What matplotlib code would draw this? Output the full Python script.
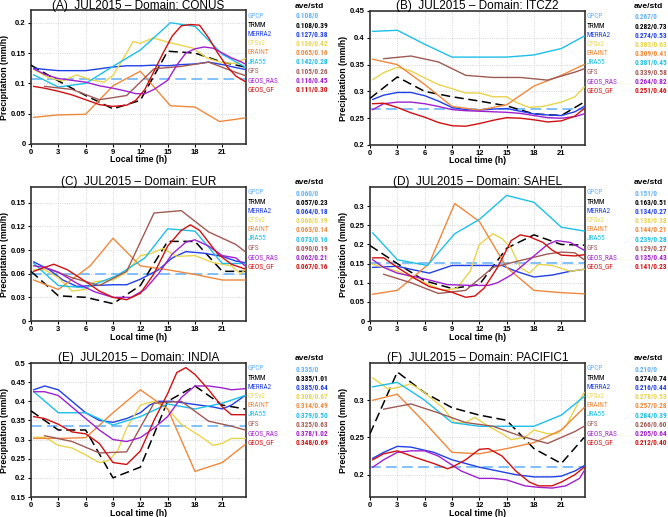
import matplotlib
matplotlib.use('Agg')
import matplotlib.pyplot as plt
from matplotlib import font_manager

plt.rcParams['font.family'] = ['Liberation Sans', 'DejaVu Sans']

# Model names and colours
models = ['GPCP', 'TRMM', 'MERRA2', 'CFSv2', 'ERAINT', 'JRA55', 'GFS', 'GEOS_RAS', 'GEOS_GF']
colors = ['#5fb0ff', '#000000', '#2040e8', '#e8d44c', '#f0883c',
          '#1cbfe8', '#a05a55', '#a020d0', '#d01010']

titles = ['(A)  JUL2015 \u2013 Domain: CONUS', '(B)  JUL2015 \u2013 Domain: ITCZ2',
          '(C)  JUL2015 \u2013 Domain: EUR', '(D)  JUL2015 \u2013 Domain: SAHEL',
          '(E)  JUL2015 \u2013 Domain: INDIA', '(F)  JUL2015 \u2013 Domain: PACIFIC1']

# ave/std per panel (legend column)
conus_stats = ['0.108/0', '0.108/0.39', '0.127/0.38', '0.136/0.42', '0.065/0.16',
               '0.142/0.28', '0.105/0.26', '0.116/0.45', '0.111/0.30']
itcz_stats = ['0.267/0', '0.282/0.73', '0.274/0.53', '0.303/0.63', '0.309/0.41',
              '0.381/0.45', '0.339/0.58', '0.264/0.82', '0.251/0.46']
eur_stats = ['0.060/0', '0.057/0.23', '0.064/0.18', '0.066/0.19', '0.063/0.14',
             '0.073/0.16', '0.090/0.19', '0.062/0.21', '0.067/0.16']
sahel_stats = ['0.151/0', '0.163/0.51', '0.134/0.27', '0.136/0.38', '0.144/0.21',
               '0.239/0.28', '0.129/0.27', '0.135/0.43', '0.141/0.23']
india_stats = ['0.335/0', '0.335/1.01', '0.385/0.64', '0.308/0.67', '0.314/0.49',
               '0.379/0.50', '0.325/0.63', '0.378/1.02', '0.348/0.69']
pacific_stats = ['0.210/0', '0.274/0.74', '0.216/0.44', '0.278/0.53', '0.257/0.28',
                 '0.284/0.39', '0.266/0.60', '0.205/0.64', '0.212/0.40']

# GPCP daily mean (flat dashed line)
gpcp_mean = [0.108, 0.267, 0.060, 0.151, 0.335, 0.210]

# ---- (A) CONUS: (hours, values) per model, TRMM..GEOS_GF
conus_trmm = ([0, 3, 6, 9, 12, 15, 18, 21, 23.5],
              [0.130, 0.104, 0.080, 0.058, 0.072, 0.153, 0.150, 0.135, 0.127])
conus_merra2 = ([0.3, 1.5, 3, 4.5, 6, 7.5, 9, 10.5, 12, 13.5, 15, 16.5, 18, 19.5, 21, 22.5, 23.5],
                [0.125, 0.123, 0.121, 0.121, 0.121, 0.124, 0.127, 0.129, 0.129, 0.130, 0.129,
                 0.131, 0.132, 0.135, 0.131, 0.126, 0.123])
conus_cfsv2 = ([0.3, 2, 3.5, 5, 6.5, 8, 9, 10.5, 11.2, 12, 13.4, 15, 17.8, 19.3, 21, 22.5, 23.5],
               [0.123, 0.109, 0.104, 0.114, 0.106, 0.102, 0.113, 0.150, 0.169, 0.166, 0.175,
                0.168, 0.158, 0.142, 0.134, 0.133, 0.141])
conus_eraint = ([0.3, 3, 6, 9, 12, 15.3, 18, 20.7, 23.5],
                [0.044, 0.048, 0.049, 0.096, 0.120, 0.063, 0.061, 0.037, 0.043])
conus_jra55 = ([0.3, 3, 6, 9, 12, 15.3, 18, 21, 23.5],
               [0.114, 0.094, 0.100, 0.128, 0.155, 0.200, 0.194, 0.148, 0.127])
conus_gfs = ([1.5, 4.5, 7.5, 10.5, 13.5, 16.5, 19.5, 22.5, 23.5],
             [0.095, 0.090, 0.073, 0.080, 0.124, 0.128, 0.135, 0.118, 0.113])
conus_geos_ras = ([0.3, 1.5, 3, 4.5, 6, 7.5, 9, 10.5, 11.5, 12.5, 13.5, 15, 16, 17, 18, 19,
                   20, 21, 22, 23, 23.5],
                  [0.124, 0.115, 0.108, 0.105, 0.102, 0.096, 0.092, 0.087, 0.083, 0.083, 0.090,
                   0.105, 0.130, 0.150, 0.157, 0.160, 0.158, 0.150, 0.142, 0.136, 0.132])
conus_geos_gf = ([0.3, 1.5, 3, 4.5, 6, 7.5, 9, 10.5, 11.5, 12.5, 13.5, 14.5, 15.5, 16.5, 17.5,
                  18.5, 19.5, 20.5, 21.5, 22.5, 23.5],
                 [0.095, 0.092, 0.087, 0.081, 0.073, 0.065, 0.062, 0.064, 0.072, 0.090, 0.120,
                  0.150, 0.178, 0.195, 0.197, 0.196, 0.175, 0.150, 0.128, 0.112, 0.103])

# ---- (B) ITCZ2
itcz_trmm = ([0, 3, 6, 9, 12, 15, 18, 21, 23.5],
             [0.287, 0.327, 0.300, 0.290, 0.282, 0.273, 0.258, 0.255, 0.280])
itcz_merra2 = ([0.3, 1.5, 3, 4.5, 6, 7.5, 9, 10.5, 12, 13.5, 15, 16.5, 18, 19.5, 21, 22.5, 23.5],
               [0.285, 0.293, 0.298, 0.298, 0.292, 0.282, 0.270, 0.266, 0.265, 0.267, 0.268,
                0.263, 0.258, 0.256, 0.255, 0.262, 0.272])
itcz_cfsv2 = ([0.3, 1.5, 3, 4.5, 6, 7.5, 9, 10.5, 12, 13.5, 15, 16, 17.5, 19, 21, 22.5, 23.5],
              [0.322, 0.335, 0.345, 0.338, 0.325, 0.313, 0.305, 0.297, 0.297, 0.290, 0.290,
               0.280, 0.270, 0.272, 0.280, 0.290, 0.308])
itcz_eraint = ([0.3, 3, 6, 9, 12, 15, 18, 21, 23.5],
               [0.360, 0.350, 0.313, 0.272, 0.265, 0.275, 0.310, 0.330, 0.350])
itcz_jra55 = ([0.3, 3, 6, 9, 12, 15, 18, 21, 23.5],
              [0.412, 0.414, 0.388, 0.364, 0.364, 0.364, 0.368, 0.380, 0.403])
itcz_gfs = ([1.5, 4.5, 7.5, 10.5, 13.5, 16.5, 19.5, 22.5, 23.5],
            [0.361, 0.366, 0.355, 0.330, 0.326, 0.326, 0.321, 0.336, 0.342])
itcz_geos_ras = ([0.3, 1.5, 3, 4.5, 6, 7.5, 9, 10.5, 12, 13.5, 15, 16.5, 18, 19.5, 21, 22.5, 23.5],
                 [0.266, 0.277, 0.280, 0.280, 0.277, 0.272, 0.266, 0.264, 0.263, 0.262, 0.261,
                  0.259, 0.255, 0.251, 0.250, 0.253, 0.258])
itcz_geos_gf = ([0.3, 1.5, 3, 4.5, 6, 7.5, 9, 10.5, 12, 13.5, 15, 16.5, 18, 19.5, 21, 22.5, 23.5],
                [0.277, 0.278, 0.270, 0.260, 0.252, 0.242, 0.236, 0.235, 0.240, 0.246, 0.251,
                 0.250, 0.247, 0.243, 0.245, 0.254, 0.268])

# ---- (C) EUR
eur_trmm = ([0, 3, 6, 9, 12, 15, 18, 21, 23.5],
            [0.063, 0.032, 0.030, 0.022, 0.045, 0.101, 0.101, 0.063, 0.063])
eur_merra2 = ([0.3, 2, 3.5, 5, 7, 9, 10.5, 12, 14, 15.5, 17, 19, 21, 22.5, 23.5],
              [0.075, 0.065, 0.052, 0.044, 0.045, 0.046, 0.046, 0.053, 0.065, 0.080, 0.088,
               0.086, 0.082, 0.076, 0.074])
eur_cfsv2 = ([0.3, 1.5, 3, 4.5, 6, 7, 9, 10.5, 12, 13, 14.5, 16, 18, 20, 22, 23, 23.5],
             [0.065, 0.065, 0.055, 0.038, 0.040, 0.050, 0.052, 0.062, 0.083, 0.085, 0.092,
              0.082, 0.083, 0.074, 0.070, 0.060, 0.065])
eur_eraint = ([0.3, 3, 6.5, 9, 12, 15, 18, 21, 23.5],
              [0.052, 0.040, 0.070, 0.105, 0.070, 0.065, 0.059, 0.052, 0.052])
eur_jra55 = ([0.3, 3, 6, 9.5, 12.5, 15, 18, 21, 23.5],
             [0.073, 0.045, 0.042, 0.058, 0.080, 0.117, 0.114, 0.073, 0.073])
eur_gfs = ([1.5, 4.5, 7.5, 10.5, 13.5, 16.5, 19.5, 22.5, 23.5],
           [0.068, 0.055, 0.045, 0.063, 0.137, 0.140, 0.113, 0.097, 0.088])
eur_geos_ras = ([0.3, 1.5, 3, 5, 7, 9, 11, 12.5, 14, 15.5, 17, 18, 19.5, 21, 22.5, 23.5],
                [0.070, 0.068, 0.062, 0.048, 0.037, 0.030, 0.030, 0.040, 0.060, 0.085, 0.100,
                 0.103, 0.095, 0.083, 0.080, 0.070])
eur_geos_gf = ([0.3, 1.5, 2.5, 4, 6, 7.5, 9, 10.5, 12, 13.5, 15, 16.5, 17.5, 18.5, 20.5, 22, 23.5],
               [0.063, 0.068, 0.072, 0.065, 0.050, 0.038, 0.030, 0.027, 0.035, 0.060, 0.095,
                0.115, 0.122, 0.115, 0.085, 0.072, 0.066])

# ---- (D) SAHEL
sahel_trmm = ([0, 3, 6, 9, 12, 15, 18, 21, 23.5],
              [0.197, 0.150, 0.105, 0.085, 0.095, 0.190, 0.225, 0.200, 0.198])
sahel_merra2 = ([0.3, 3, 4.5, 6.5, 9, 12, 14.5, 16, 18, 20, 22, 23.5],
                [0.140, 0.143, 0.135, 0.125, 0.145, 0.145, 0.145, 0.130, 0.115, 0.120, 0.130, 0.135])
sahel_cfsv2 = ([0.3, 3, 6, 8, 9.5, 11, 12, 13.5, 14.5, 15.5, 16.5, 17.5, 18.5, 20, 22, 23.5],
               [0.148, 0.130, 0.100, 0.080, 0.085, 0.130, 0.200, 0.228, 0.215, 0.190, 0.140,
                0.125, 0.148, 0.145, 0.130, 0.135])
sahel_eraint = ([0.3, 3, 6.5, 9.3, 12, 15, 18, 21, 23.5],
                [0.070, 0.080, 0.150, 0.307, 0.260, 0.140, 0.080, 0.074, 0.071])
sahel_jra55 = ([0.3, 3, 6.3, 9.3, 12, 15, 18, 21, 23.5],
               [0.230, 0.160, 0.145, 0.228, 0.265, 0.328, 0.310, 0.245, 0.235])
sahel_gfs = ([1.5, 4.5, 7.5, 10.5, 13.5, 16.5, 19.5, 21, 22.5, 23.5],
             [0.122, 0.100, 0.072, 0.080, 0.140, 0.158, 0.175, 0.180, 0.178, 0.160])
sahel_geos_ras = ([0.3, 1.5, 3, 6, 8.5, 11, 13, 14, 15.5, 17, 18, 19.5, 20.5, 22, 23.5],
                  [0.160, 0.140, 0.125, 0.110, 0.095, 0.093, 0.093, 0.100, 0.120, 0.150, 0.170,
                   0.200, 0.210, 0.205, 0.185])
sahel_geos_gf = ([0.3, 1.5, 3, 5, 6.5, 9, 10.5, 11.5, 12.5, 14, 15.5, 16.5, 17.5, 19, 20, 21,
                  22.5, 23.5],
                 [0.165, 0.165, 0.140, 0.110, 0.090, 0.075, 0.062, 0.065, 0.085, 0.140, 0.210,
                  0.225, 0.220, 0.205, 0.185, 0.172, 0.170, 0.173])

# ---- (E) INDIA
india_trmm = ([0, 3, 6, 9, 12, 15, 18, 21, 23.5],
              [0.375, 0.325, 0.325, 0.200, 0.228, 0.400, 0.440, 0.390, 0.380])
india_merra2 = ([0.3, 1.5, 3, 4.5, 6, 7.5, 9, 10.5, 12, 13, 14, 15.5, 17, 18.5, 20, 21, 22,
                 23.5],
                [0.430, 0.440, 0.430, 0.400, 0.370, 0.350, 0.345, 0.355, 0.370, 0.390, 0.400,
                 0.400, 0.395, 0.390, 0.385, 0.380, 0.390, 0.415])
india_cfsv2 = ([0.3, 1.5, 3, 4.5, 6, 7.5, 8.5, 9.5, 10.5, 12, 13.5, 15, 16.5, 18.5, 20, 21,
                22, 23.5],
               [0.306, 0.306, 0.285, 0.278, 0.260, 0.240, 0.245, 0.270, 0.330, 0.390, 0.400,
                0.380, 0.340, 0.310, 0.285, 0.290, 0.303, 0.303])
india_eraint = ([0.3, 3, 6, 9, 12, 15, 18, 21, 23.5],
                [0.303, 0.303, 0.305, 0.370, 0.430, 0.380, 0.217, 0.240, 0.287])
india_jra55 = ([0.3, 3, 6, 9, 12, 15, 18, 21, 23.5],
               [0.425, 0.370, 0.370, 0.338, 0.360, 0.393, 0.380, 0.395, 0.415])
india_gfs = ([1.5, 4.5, 7.5, 10.5, 13.5, 16.5, 19.5, 22, 23.5],
             [0.310, 0.295, 0.265, 0.268, 0.395, 0.400, 0.348, 0.335, 0.325])
india_geos_ras = ([0.3, 1.5, 3, 4.5, 6, 7.5, 9, 10.5, 12, 13.5, 15, 16.5, 18, 19.5, 21, 22,
                   23.5],
                  [0.425, 0.425, 0.415, 0.385, 0.355, 0.325, 0.300, 0.295, 0.305, 0.330, 0.360,
                   0.410, 0.440, 0.440, 0.435, 0.430, 0.433])
india_geos_gf = ([0.3, 1.5, 3, 4.5, 6, 7.5, 9, 10.5, 12, 13.5, 15, 16, 17, 18, 19.5, 21, 22,
                  23.5],
                 [0.360, 0.355, 0.340, 0.320, 0.315, 0.290, 0.240, 0.235, 0.270, 0.350, 0.420,
                  0.475, 0.488, 0.470, 0.430, 0.385, 0.365, 0.365])

# ---- (F) PACIFIC1
pacific_trmm = ([0, 3, 6, 9, 12, 15, 18, 21, 23.5],
                [0.255, 0.338, 0.310, 0.290, 0.280, 0.273, 0.235, 0.215, 0.250])
pacific_merra2 = ([0.3, 1.5, 3, 4.5, 7, 9, 12, 14, 16, 18, 20, 21, 22.5, 23.5],
                  [0.222, 0.230, 0.238, 0.237, 0.230, 0.220, 0.210, 0.205, 0.200, 0.197, 0.197,
                   0.198, 0.205, 0.212])
pacific_cfsv2 = ([0.3, 2, 3, 4.5, 6, 8, 9.3, 10.5, 11.5, 13, 14.5, 15.5, 17, 18, 19.5, 20.5,
                  21.5, 23, 23.5],
                 [0.330, 0.315, 0.317, 0.322, 0.310, 0.290, 0.270, 0.270, 0.277, 0.265, 0.255,
                  0.247, 0.250, 0.260, 0.255, 0.255, 0.265, 0.300, 0.310])
pacific_eraint = ([0.3, 3, 6, 9, 12, 15, 18, 21, 23.5],
                  [0.300, 0.308, 0.270, 0.230, 0.228, 0.235, 0.243, 0.260, 0.290])
pacific_jra55 = ([0.3, 3, 6, 9, 12, 15, 18, 21, 23.5],
                 [0.318, 0.324, 0.300, 0.270, 0.265, 0.265, 0.265, 0.280, 0.305])
pacific_gfs = ([1.5, 4.5, 7.5, 10.5, 13.5, 16.5, 19.5, 22.5, 23.5],
               [0.288, 0.295, 0.283, 0.270, 0.265, 0.252, 0.242, 0.258, 0.265])
pacific_geos_ras = ([0.3, 1.5, 3, 4.5, 6, 7.5, 10, 12, 13.5, 15, 17, 18.5, 20, 21.5, 23, 23.5],
                    [0.210, 0.220, 0.230, 0.232, 0.232, 0.225, 0.205, 0.195, 0.195, 0.193, 0.185,
                     0.183, 0.182, 0.185, 0.195, 0.205])
pacific_geos_gf = ([0.3, 1.5, 3, 5, 7, 8.5, 9, 10.5, 12, 13, 14.5, 16, 17.5, 18.5, 20, 21,
                    22.5, 23.5],
                   [0.220, 0.228, 0.232, 0.223, 0.215, 0.208, 0.210, 0.220, 0.234, 0.235, 0.225,
                    0.205, 0.190, 0.185, 0.185, 0.190, 0.200, 0.210])

panel_series = [
    [conus_trmm, conus_merra2, conus_cfsv2, conus_eraint, conus_jra55, conus_gfs,
     conus_geos_ras, conus_geos_gf],
    [itcz_trmm, itcz_merra2, itcz_cfsv2, itcz_eraint, itcz_jra55, itcz_gfs,
     itcz_geos_ras, itcz_geos_gf],
    [eur_trmm, eur_merra2, eur_cfsv2, eur_eraint, eur_jra55, eur_gfs,
     eur_geos_ras, eur_geos_gf],
    [sahel_trmm, sahel_merra2, sahel_cfsv2, sahel_eraint, sahel_jra55, sahel_gfs,
     sahel_geos_ras, sahel_geos_gf],
    [india_trmm, india_merra2, india_cfsv2, india_eraint, india_jra55, india_gfs,
     india_geos_ras, india_geos_gf],
    [pacific_trmm, pacific_merra2, pacific_cfsv2, pacific_eraint, pacific_jra55, pacific_gfs,
     pacific_geos_ras, pacific_geos_gf],
]
panel_stats = [conus_stats, itcz_stats, eur_stats, sahel_stats, india_stats, pacific_stats]

y_limits = [(0, 0.221), (0.2, 0.45), (0, 0.17), (0, 0.35), (0.15, 0.5), (0.17, 0.35)]
y_ticks = [[0, 0.05, 0.1, 0.15, 0.2],
           [0.2, 0.25, 0.3, 0.35, 0.4, 0.45],
           [0, 0.03, 0.06, 0.09, 0.12, 0.15],
           [0, 0.05, 0.1, 0.15, 0.2, 0.25, 0.3],
           [0.15, 0.2, 0.25, 0.3, 0.35, 0.4, 0.45, 0.5],
           [0.2, 0.25, 0.3]]
x_ticks = [0, 3, 6, 9, 12, 15, 18, 21]


def pick_font(cands):
    # first condensed family that is really installed
    for c in cands:
        try:
            font_manager.findfont(font_manager.FontProperties(family=c),
                                  fallback_to_default=False)
            return c, True
        except Exception:
            pass
    return 'Liberation Sans', False


narrow, is_narrow = pick_font(['Liberation Sans Narrow', 'DejaVu Sans Condensed',
                               'Roboto Condensed', 'Open Sans Condensed', 'Arial Narrow'])
name_size = 5.2 if is_narrow else 4.6
val_size = 5.2 if is_narrow else 4.7

# axes boxes in pixels: (left, top)
W, H = 668, 517
boxes = [(31, 10), (370, 11), (31, 187), (370, 187), (31, 363), (370, 363)]
aw, ah = 215, 134

fig = plt.figure(figsize=(W / 100, H / 100), dpi=100)

for i, (left, top) in enumerate(boxes):
    ax = fig.add_axes([left / W, 1 - (top + ah) / H, aw / W, ah / H])

    ax.axhline(gpcp_mean[i], color=colors[0], lw=1.1, dashes=(7, 3.5), zorder=2)
    for k, (hrs, vals) in enumerate(panel_series[i]):
        c = colors[k + 1]
        if k == 0:
            ax.plot(hrs, vals, color=c, lw=1.1, dashes=(6, 3), zorder=3)
        else:
            ax.plot(hrs, vals, color=c, lw=1.0, zorder=3)

    ax.set_xlim(0, 23.6)
    ax.set_ylim(*y_limits[i])
    ax.set_xticks(x_ticks)
    ax.set_yticks(y_ticks[i])
    ax.set_yticklabels([f'{v:g}' for v in y_ticks[i]])
    ax.grid(True, color='#c8c8c8', ls=':', lw=0.6)
    ax.tick_params(labelsize=5.5, width=0.8, length=2.5, direction='out', pad=1.2)
    for lab in ax.get_xticklabels() + ax.get_yticklabels():
        lab.set_fontweight('bold')
    for sp in ax.spines.values():
        sp.set_color('#333333')
        sp.set_linewidth(1.2)

    ax.text(0.5, 1 + 1.5 / ah, titles[i], transform=ax.transAxes, ha='center',
            va='baseline', fontsize=8.5)
    ax.text(0.5, -16 / ah, 'Local time (h)', transform=ax.transAxes, ha='center',
            va='center', fontsize=6.3, fontweight='bold')
    ax.text(-26 / aw, 0.5, 'Precipitation (mm/h)', transform=ax.transAxes, rotation=90,
            ha='center', va='center', fontsize=6.3, fontweight='bold')

    # side legend: names and ave/std
    ax.text(1 + 48.5 / aw, 1 + 4 / ah, 'ave/std', transform=ax.transAxes, ha='left',
            va='center', fontsize=6, fontweight='bold')
    for k, name in enumerate(models):
        y = 1 - (6 + 9.2 * k) / ah
        ax.text(1 + 1.5 / aw, y, name, transform=ax.transAxes, ha='left', va='center',
                fontsize=name_size, color=colors[k], family=[narrow, 'DejaVu Sans'])
        ax.text(1 + 50 / aw, y, panel_stats[i][k], transform=ax.transAxes, ha='left',
                va='center', fontsize=val_size, color=colors[k], fontweight='bold',
                family=[narrow, 'DejaVu Sans'])

fig.savefig('out.png', dpi=100)
